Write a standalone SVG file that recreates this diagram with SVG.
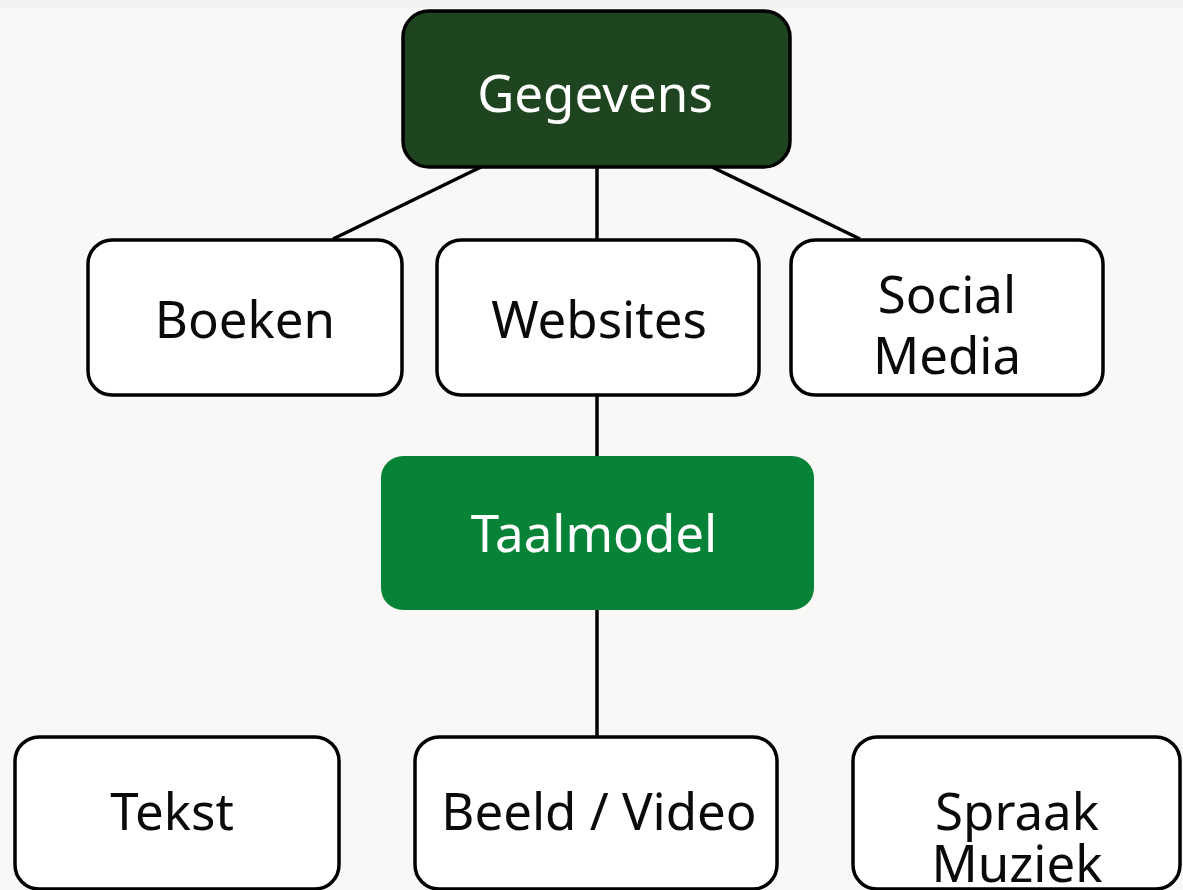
<svg xmlns="http://www.w3.org/2000/svg" width="1183" height="890" viewBox="0 0 1183 890">
<style>
.box{fill:#ffffff;stroke:#000000;stroke-width:3.5}
.t{font-family:"Noto Sans","Open Sans",sans-serif;font-size:51px;text-anchor:middle;fill:#0a0a0a}
.w{fill:#ffffff}
.c{stroke:#000000;stroke-width:3.5;fill:none}
</style>
<rect x="0" y="0" width="1183" height="890" fill="#f9f8f6"/>
<rect x="0" y="0" width="1183" height="8" fill="#f1f1f1"/>
<g id="connectors">
<line class="c" x1="481" y1="167" x2="333" y2="239"/>
<line class="c" x1="597" y1="167" x2="597" y2="239"/>
<line class="c" x1="712" y1="167" x2="860" y2="239"/>
<line class="c" x1="597" y1="395" x2="597" y2="456"/>
<line class="c" x1="597" y1="609" x2="597" y2="737"/>
</g>
<g id="gegevens">
<rect x="403" y="11" width="387" height="156" rx="26" fill="#1f4420" stroke="#000" stroke-width="3.5"/>
<text class="t w" x="595" y="112">Gegevens</text>
</g>
<g id="boeken">
<rect class="box" x="88" y="240" width="314" height="155" rx="24"/>
<text class="t" x="245" y="338">Boeken</text>
</g>
<g id="websites">
<rect class="box" x="437" y="240" width="322" height="155" rx="24"/>
<text class="t" x="599" y="338">Websites</text>
</g>
<g id="socialmedia">
<rect class="box" x="791" y="240" width="312" height="155" rx="24"/>
<text class="t" x="947" y="313">Social</text>
<text class="t" x="947" y="374">Media</text>
</g>
<g id="taalmodel">
<rect x="381" y="456" width="433" height="154" rx="22" fill="#078337"/>
<text class="t w" x="594" y="552">Taalmodel</text>
</g>
<g id="tekst">
<rect class="box" x="15" y="737" width="324" height="152" rx="24"/>
<text class="t" x="172" y="830">Tekst</text>
</g>
<g id="beeldvideo">
<rect class="box" x="415" y="737" width="362" height="152" rx="24"/>
<text class="t" x="599" y="830">Beeld / Video</text>
</g>
<g id="spraakmuziek">
<rect class="box" x="853" y="737" width="327" height="152" rx="24"/>
<text class="t" x="1017" y="830">Spraak</text>
<text class="t" x="1017" y="882">Muziek</text>
</g>
</svg>
